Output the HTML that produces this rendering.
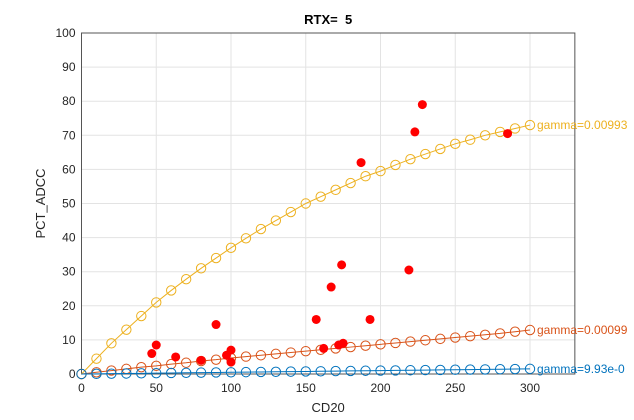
<!DOCTYPE html>
<html><head><meta charset="utf-8"><style>
body{margin:0;background:#fff}
svg{display:block;font-family:"Liberation Sans",Arial,sans-serif}
</style></head><body>
<svg id="c" width="634" height="420"></svg>
<script>
const xTicks=[0,50,100,150,200,250,300];
const yTicks=[0,10,20,30,40,50,60,70,80,90,100];
const curveX=[0,10,20,30,40,50,60,70,80,90,100,110,120,130,140,150,160,170,180,190,200,210,220,230,240,250,260,270,280,290,300];
const yellowY=[0,4.5,9,13,17,21,24.5,27.8,31,34,37,39.8,42.5,45,47.5,50,52,54,56,58,59.5,61.3,63,64.5,66,67.5,68.7,70,71,72,73];
const orangeY=[0,0.5,1,1.5,2,2.4,2.9,3.3,3.8,4.2,4.7,5.1,5.5,5.9,6.3,6.7,7.1,7.5,7.9,8.3,8.7,9.1,9.5,9.9,10.3,10.7,11.1,11.5,11.9,12.4,12.9];
const blueY=[0,0.05,0.1,0.15,0.2,0.25,0.3,0.35,0.4,0.45,0.5,0.55,0.6,0.65,0.7,0.75,0.8,0.85,0.9,0.95,1.0,1.05,1.1,1.15,1.2,1.25,1.3,1.35,1.4,1.45,1.5];
const dotX=[47,50,63,80,90,97,100,100,157,162,167,172,174,175,187,193,219,223,228,285];
const dotY=[6,8.5,5,4,14.5,5.5,7,3.5,16,7.5,25.5,8.5,32,9,62,16,30.5,71,79,70.5];
const labels=["gamma=0.00993","gamma=0.00099","gamma=9.93e-0"];
const NS="http://www.w3.org/2000/svg";
const svg=document.getElementById('c');
const X=v=>81.5+v*1.495, Y=v=>374-v*3.41;
function el(t,a,p){const e=document.createElementNS(NS,t);for(const k in a)e.setAttribute(k,a[k]);(p||svg).appendChild(e);return e;}
const L=X(0),R=X(330),T=Y(100),B=Y(0);
for(const t of xTicks){const g=el('line',{x1:X(t),x2:X(t),y1:T,y2:B,stroke:'#e3e3e3'});


const tx=el('text',{x:X(t),y:B+18,'text-anchor':'middle','font-size':12,fill:'#262626'});tx.textContent=t;

}
for(const t of yTicks){const g=el('line',{x1:L,x2:R,y1:Y(t),y2:Y(t),stroke:'#e3e3e3'});


const tx=el('text',{x:L-6,y:Y(t)+4,'text-anchor':'end','font-size':12,fill:'#262626'});tx.textContent=t;

}
const box=el('rect',{x:L,y:T,width:R-L,height:B-T,fill:'none',stroke:'#555','stroke-width':1});


const series=[[yellowY,'#EDB120'],[orangeY,'#D95319'],[blueY,'#0072BD']];
series.forEach(([ys,c],i)=>{
 const pl=el('polyline',{points:curveX.map((x,j)=>X(x)+','+Y(ys[j])).join(' '),fill:'none',stroke:c,'stroke-width':1});
 
 
 curveX.forEach((x,j)=>{const m=el('circle',{cx:X(x),cy:Y(ys[j]),r:4.7,fill:'none',stroke:c,'stroke-width':1});
 
 });
 const tx=el('text',{x:X(300)+7,y:Y(ys[ys.length-1])+4,'font-size':12,fill:c});tx.textContent=labels[i];
 
 
});
dotX.forEach((x,i)=>{const d=el('circle',{cx:X(x),cy:Y(dotY[i]),r:4.5,fill:'#ff0000'});

});
const t=el('text',{x:(L+R)/2,y:24,'text-anchor':'middle','font-size':13,'font-weight':'bold',fill:'#000',style:'white-space:pre'});t.textContent='RTX=  5';


const xl=el('text',{x:(L+R)/2,y:412,'text-anchor':'middle','font-size':13,fill:'#262626'});xl.textContent='CD20';


const yl=el('text',{x:0,y:0,'text-anchor':'middle','font-size':13,fill:'#262626',transform:`translate(45,${(T+B)/2}) rotate(-90)`});yl.textContent='PCT_ADCC';


</script>
</body></html>
